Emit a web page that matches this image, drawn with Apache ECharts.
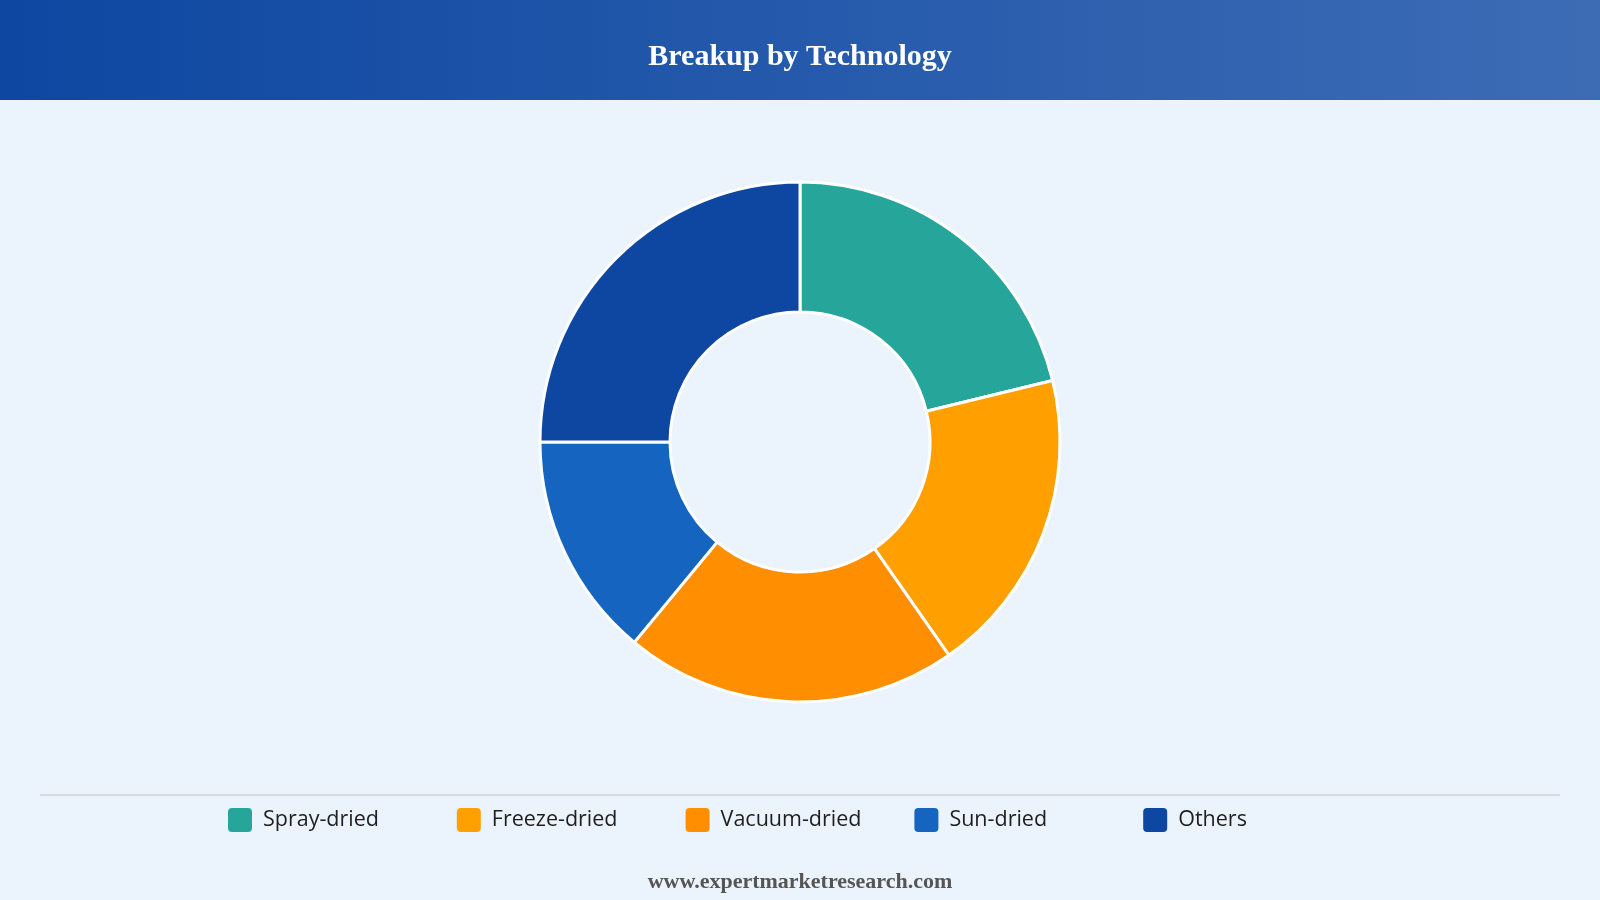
<!DOCTYPE html>
<html>
<head>
<meta charset="utf-8">
<title>Breakup by Technology</title>
<script src="https://cdn.jsdelivr.net/npm/echarts@6/dist/echarts.min.js"></script>
<style>
  html, body { margin: 0; padding: 0; background: #ebf3fc; }
  #chart { width: 1600px; height: 900px; }
</style>
</head>
<body>
<div id="chart"></div>
<script>
const categories = ['Spray-dried', 'Freeze-dried', 'Vacuum-dried', 'Sun-dried', 'Others'];
const shares = [21.2, 19.1, 20.7, 14, 25];
const colors = ['#26a69a', '#ffa000', '#ff8f00', '#1565c0', '#0d47a1'];

const chart = echarts.init(document.getElementById('chart'));

const iconPath = 'path://M4,0H20Q24,0 24,4V20Q24,24 20,24H4Q0,24 0,20V4Q0,0 4,0Z';

// one legend per item so the columns sit at fixed, even steps
const legendStart = 228;
const legendStep = 228.8;
const legends = categories.map((name, i) => ({
  data: [name],
  orient: 'horizontal',
  left: legendStart + legendStep * i,
  top: 808,
  padding: 0,
  itemWidth: 24,
  itemHeight: 24,
  icon: iconPath,
  selectedMode: false,
  itemStyle: { borderWidth: 0 },
  textStyle: {
    fontFamily: '"Open Sans", "Noto Sans", sans-serif',
    fontSize: 21.5,
    color: '#1f1f1f',
    padding: [0, 0, 0, 6]
  }
}));

const option = {
  backgroundColor: '#ebf3fc',
  color: colors,
  title: [
    {
      text: 'Breakup by Technology',
      left: 'center',
      top: 37,
      textStyle: {
        fontFamily: '"Liberation Serif", "Times New Roman", serif',
        fontSize: 30,
        fontWeight: 'bold',
        color: '#ffffff'
      }
    },
    {
      text: 'www.expertmarketresearch.com',
      left: 'center',
      top: 866,
      textStyle: {
        fontFamily: '"Liberation Serif", "Times New Roman", serif',
        fontSize: 22,
        fontWeight: 'bold',
        color: '#555555'
      }
    }
  ],
  graphic: [
    {
      type: 'rect',
      z: -1,
      shape: { x: 0, y: 0, width: 1600, height: 100 },
      style: {
        fill: new echarts.graphic.LinearGradient(0, 0, 1, 0, [
          { offset: 0, color: '#0d47a1' },
          { offset: 1, color: '#3d6cb5' }
        ])
      }
    },
    {
      type: 'line',
      shape: { x1: 40, y1: 795, x2: 1560, y2: 795 },
      style: { stroke: '#d6dbe2', lineWidth: 2 }
    }
  ],
  legend: legends,
  series: [
    {
      name: 'Technology',
      type: 'pie',
      center: [800, 442],
      radius: [130, 260],
      startAngle: 90,
      clockwise: true,
      silent: true,
      label: { show: false },
      labelLine: { show: false },
      itemStyle: {
        borderColor: '#ffffff',
        borderWidth: 3
      },
      data: categories.map((name, i) => ({ name: name, value: shares[i] }))
    }
  ]
};

chart.setOption(option);

window.addEventListener('resize', () => chart.resize());
</script>
</body>
</html>
